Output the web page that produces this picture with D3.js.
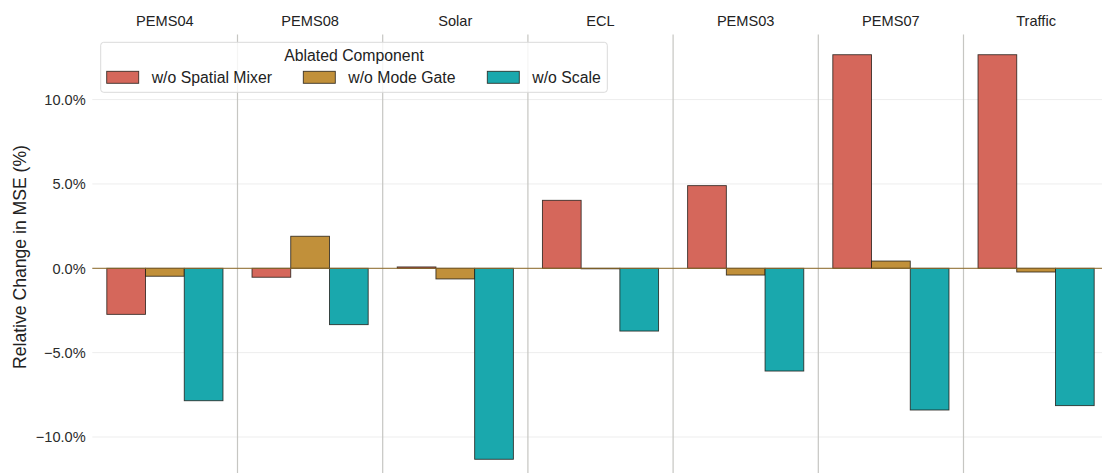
<!DOCTYPE html>
<html>
<head>
<meta charset="utf-8">
<script src="https://cdn.jsdelivr.net/npm/d3@7"></script>
<style>
  html, body { margin: 0; padding: 0; background: #ffffff; }
  svg { display: block; font-family: "Liberation Sans", Arial, Helvetica, sans-serif; }
</style>
</head>
<body>
<svg id="chart" width="1102" height="473"></svg>
<script>
// Datasets (facets) and ablated components
const datasets = ["PEMS04", "PEMS08", "Solar", "ECL", "PEMS03", "PEMS07", "Traffic"];
const components = ["w/o Spatial Mixer", "w/o Mode Gate", "w/o Scale"];

// Relative change in MSE (%) per dataset, one array per component
const spatialMixer = [-2.73, -0.53, 0.08, 4.03, 4.90, 12.66, 12.66];
const modeGate     = [-0.47, 1.90, -0.63, -0.03, -0.40, 0.43, -0.22];
const scaleOnly    = [-7.85, -3.34, -11.32, -3.72, -6.09, -8.40, -8.14];

const yTicks = [-10, -5, 0, 5, 10];
const colors = ["#D5675B", "#C1903A", "#1AA8AD"];

const seriesValues = [spatialMixer, modeGate, scaleOnly];
const rows = [];
datasets.forEach((ds, i) => {
  components.forEach((c, j) => rows.push({ dataset: ds, component: c, value: seriesValues[j][i] }));
});

const svg = d3.select("#chart");
const panelLeft = 92.3, panelStep = 145.2;
const panelTop = 34.5;

// Facet positions
const xPanel = d3.scaleBand()
  .domain(datasets)
  .range([panelLeft, panelLeft + panelStep * datasets.length])
  .paddingInner(0).paddingOuter(0);

// Dodged bars inside each facet: group covers 80% of the panel
const xInner = d3.scaleBand()
  .domain(components)
  .range([0, xPanel.bandwidth()])
  .paddingInner(0).paddingOuter(0.375);

// Y scale with 5% expansion around the data range
const ext = d3.extent(rows, d => d.value);
const pad = (ext[1] - ext[0]) * 0.05;
const pxPerUnit = 16.87;
const yMin = ext[0] - pad, yMax = ext[1] + pad;
const y = d3.scaleLinear()
  .domain([yMin, yMax])
  .range([panelTop + (yMax - yMin) * pxPerUnit, panelTop]);

const color = d3.scaleOrdinal().domain(components).range(colors);
const rightEdge = xPanel.range()[1];

// Horizontal gridlines
svg.append("g")
  .selectAll("line")
  .data(yTicks)
  .join("line")
  .attr("x1", panelLeft).attr("x2", rightEdge)
  .attr("y1", d => y(d)).attr("y2", d => y(d))
  .attr("stroke", "#EDEDED").attr("stroke-width", 1);

// Y axis tick labels
const fmt = d => (d < 0 ? "\u2212" : "") + Math.abs(d).toFixed(1) + "%";
svg.append("g")
  .selectAll("text")
  .data(yTicks)
  .join("text")
  .attr("x", 85.7).attr("y", d => y(d))
  .attr("dy", "0.36em")
  .attr("text-anchor", "end")
  .attr("font-size", "14.6px")
  .attr("fill", "#2b2b2b")
  .text(fmt);

// Y axis title
svg.append("text")
  .attr("transform", `translate(25.5,${(y.range()[0] + y.range()[1]) / 2}) rotate(-90)`)
  .attr("text-anchor", "middle")
  .attr("font-size", "17.6px")
  .attr("fill", "#222")
  .text("Relative Change in MSE (%)");

// Facet separators
svg.append("g")
  .selectAll("line")
  .data(datasets.slice(1))
  .join("line")
  .attr("x1", d => xPanel(d)).attr("x2", d => xPanel(d))
  .attr("y1", panelTop).attr("y2", 473)
  .attr("stroke", "#C6C6C2").attr("stroke-width", 1.2);

// Facet strip labels
svg.append("g")
  .selectAll("text")
  .data(datasets)
  .join("text")
  .attr("x", d => xPanel(d) + xPanel.bandwidth() / 2)
  .attr("y", 26)
  .attr("text-anchor", "middle")
  .attr("font-size", "14.6px")
  .attr("fill", "#222")
  .text(d => d);

// Bars
svg.append("g")
  .selectAll("rect")
  .data(rows)
  .join("rect")
  .attr("x", d => xPanel(d.dataset) + xInner(d.component))
  .attr("width", xInner.bandwidth())
  .attr("y", d => y(Math.max(0, d.value)))
  .attr("height", d => Math.abs(y(d.value) - y(0)))
  .attr("fill", d => color(d.component))
  .attr("stroke", "#1f1a14").attr("stroke-opacity", 0.85).attr("stroke-width", 0.9);

// Zero reference line
svg.append("line")
  .attr("x1", panelLeft).attr("x2", rightEdge)
  .attr("y1", y(0)).attr("y2", y(0))
  .attr("stroke", "#8C6A28").attr("stroke-width", 1);

// Legend
const legend = svg.append("g");
legend.append("rect")
  .attr("x", 100.7).attr("y", 42.3).attr("width", 506.6).attr("height", 50)
  .attr("rx", 3).attr("fill", "#ffffff").attr("fill-opacity", 0.82)
  .attr("stroke", "#DADADA").attr("stroke-width", 1);
legend.append("text")
  .attr("x", 354).attr("y", 60.5)
  .attr("text-anchor", "middle")
  .attr("font-size", "15.8px").attr("fill", "#222")
  .text("Ablated Component");
const keyX = [106.7, 303.3, 487.3];
const items = legend.selectAll("g.item")
  .data(components)
  .join("g").attr("class", "item")
  .attr("transform", (d, i) => `translate(${keyX[i]},71.3)`);
items.append("rect")
  .attr("width", 32).attr("height", 12)
  .attr("fill", d => color(d))
  .attr("stroke", "#1f1a14").attr("stroke-opacity", 0.85).attr("stroke-width", 0.9);
items.append("text")
  .attr("x", 45).attr("y", 6).attr("dy", "0.36em")
  .attr("font-size", "15.8px").attr("fill", "#222")
  .text(d => d);
</script>
</body>
</html>
